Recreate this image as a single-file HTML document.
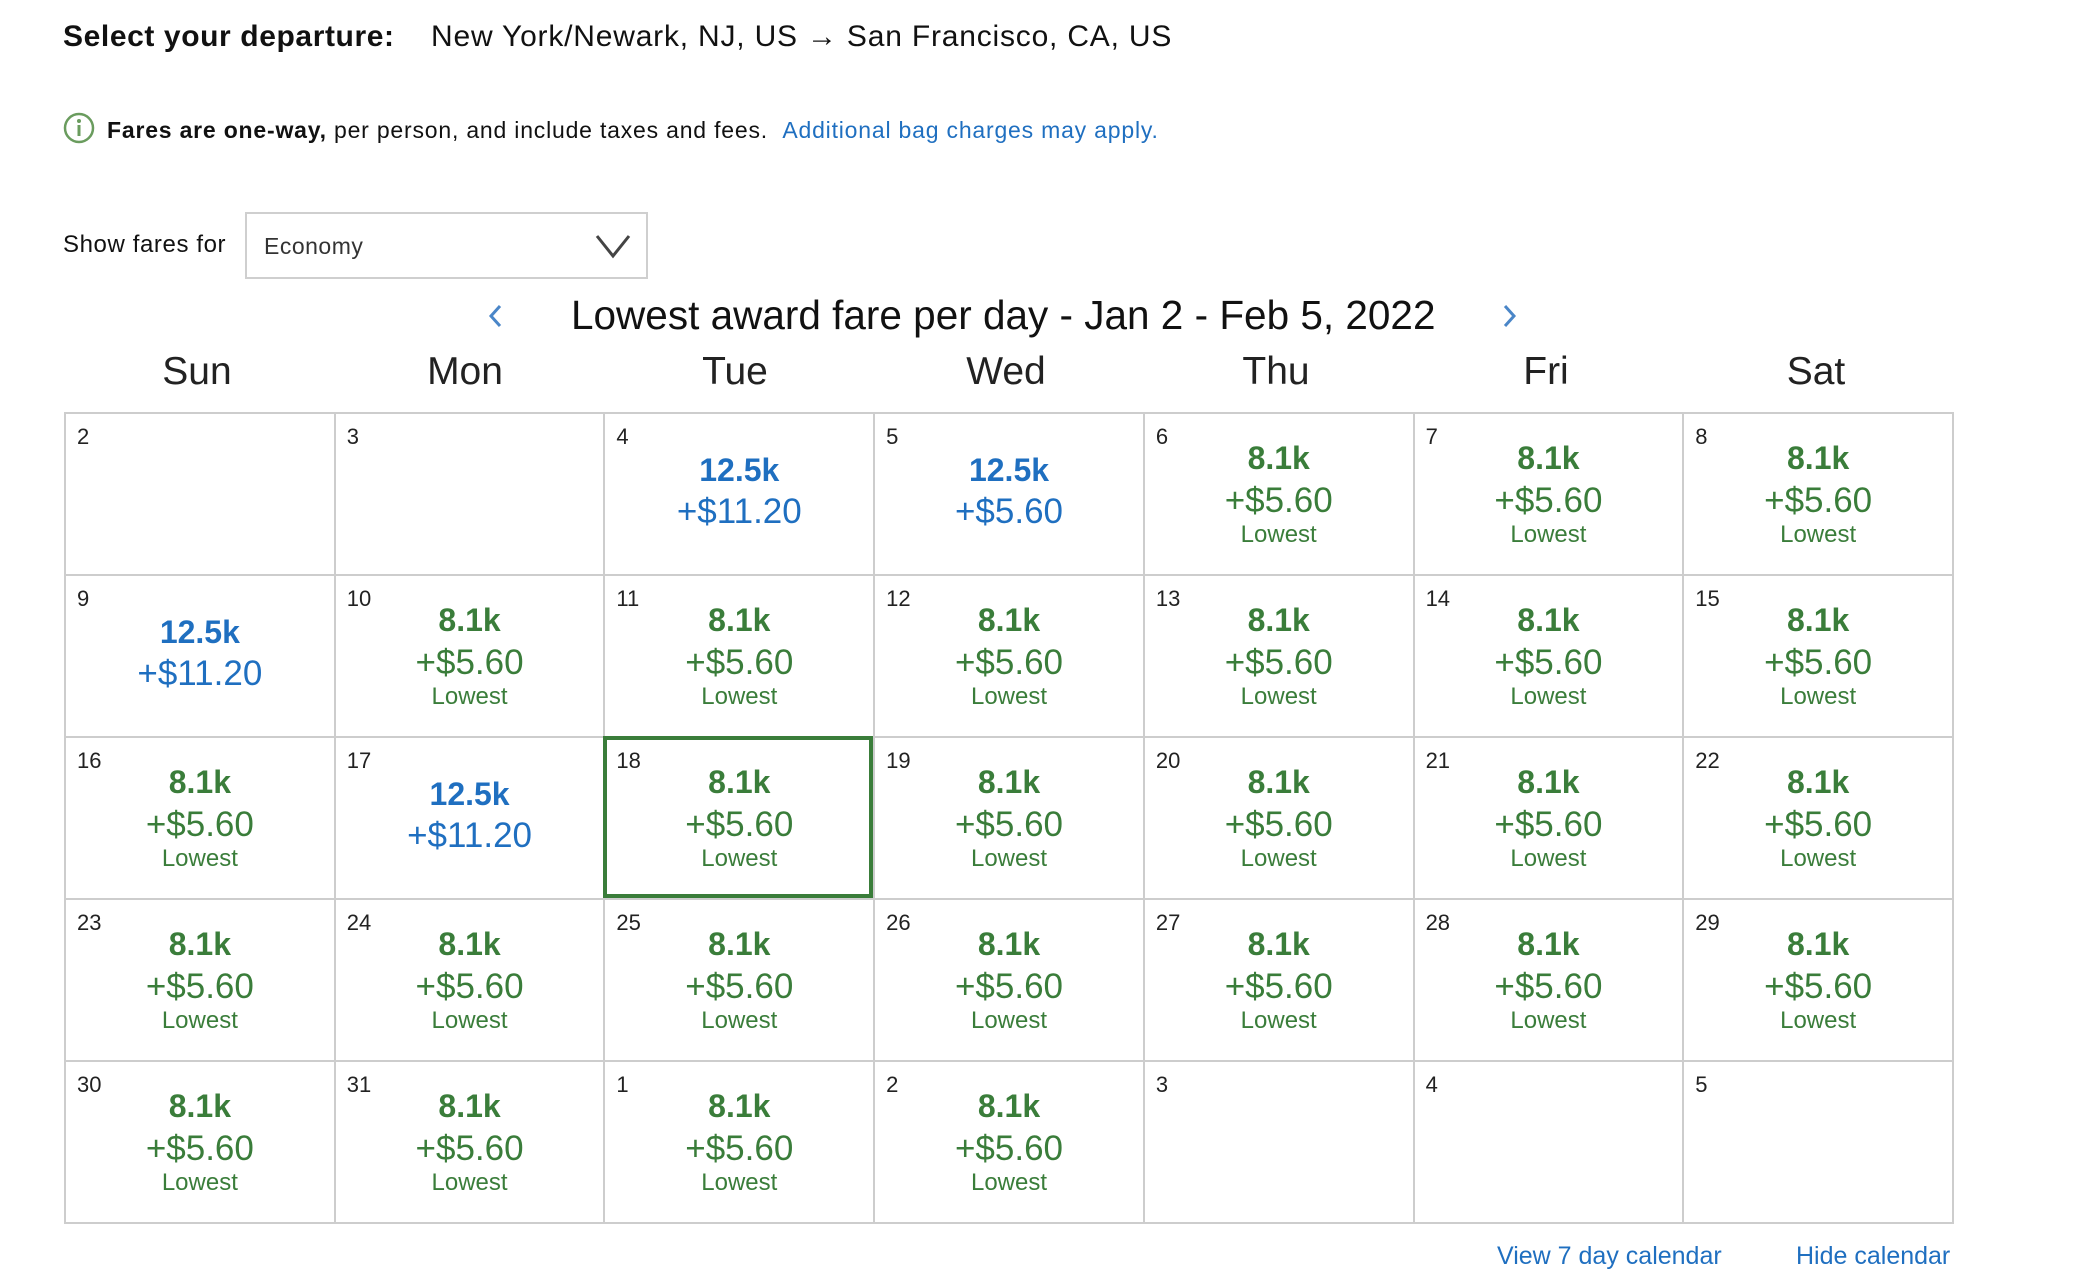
<!DOCTYPE html>
<html><head><meta charset="utf-8"><style>
*{margin:0;padding:0;box-sizing:border-box}
body{width:2076px;height:1284px;background:#fff;font-family:"Liberation Sans",sans-serif;color:#111;position:relative;overflow:hidden}
.a{position:absolute;white-space:nowrap}
#grid{position:absolute;left:64px;top:412px;width:1890px;height:812px;border-left:2px solid #cdcdcd;border-top:2px solid #cdcdcd;display:grid;grid-template-columns:repeat(7,1fr);grid-template-rows:repeat(5,1fr)}
.c{position:relative;border-right:2px solid #cdcdcd;border-bottom:2px solid #cdcdcd}
.d{position:absolute;left:11px;top:10px;font-size:22px;line-height:26px;color:#222}
.k,.p,.l{position:absolute;left:0;right:0;text-align:center;color:#3a7d3a}
.k{font-weight:bold;font-size:32px;line-height:40px;top:24px}
.p{font-size:35px;line-height:40px;top:67px}
.l{font-size:24px;line-height:28px;top:107px}
.b .k,.b .p{color:#1f6fc0}
.b .k{top:36px}.b .p{top:78px}
.sel{position:absolute;inset:-2px 0 0 -2px;border:4px solid #3a7d3a}
.dn{position:absolute;top:350px;width:270px;text-align:center;font-size:39px;line-height:44px;color:#222}
</style></head><body>
<div class="a" style="left:63px;top:19px;font-size:30px;line-height:36px;letter-spacing:0.6px"><b>Select your departure:</b></div>
<div class="a" style="left:431px;top:19px;font-size:30px;line-height:36px;letter-spacing:0.8px">New York/Newark, NJ, US → San Francisco, CA, US</div>
<svg class="a" style="left:63px;top:112px" width="32" height="32"><circle cx="16" cy="16" r="14" fill="none" stroke="#6a9c5e" stroke-width="2.5"/><circle cx="16" cy="9" r="2" fill="#6a9c5e"/><rect x="14.5" y="13" width="3" height="11" fill="#6a9c5e"/></svg>
<div class="a" style="left:107px;top:116px;font-size:23px;line-height:28px;letter-spacing:0.8px"><b>Fares are one-way,</b> per person, and include taxes and fees. <span style="color:#1f6fc0">&nbsp;Additional bag charges may apply.</span></div>
<div class="a" style="left:63px;top:231px;font-size:24px;line-height:28px;letter-spacing:0.6px">Show fares for</div>
<div class="a" style="left:245px;top:212px;width:403px;height:67px;border:2px solid #cfcfcf"></div>
<div class="a" style="left:264px;top:232px;font-size:23px;line-height:28px;color:#333;letter-spacing:0.5px">Economy</div>
<svg class="a" style="left:594px;top:232px" width="38" height="28"><polyline points="3,4 19,24 35,4" fill="none" stroke="#444" stroke-width="3"/></svg>
<svg class="a" style="left:485px;top:302px" width="20" height="28"><polyline points="15,4 6,14 15,24" fill="none" stroke="#4a86c8" stroke-width="3"/></svg>
<svg class="a" style="left:1500px;top:302px" width="20" height="28"><polyline points="5,4 14,14 5,24" fill="none" stroke="#4a86c8" stroke-width="3"/></svg>
<div class="a" style="left:571px;top:291px;font-size:40.5px;line-height:48px;color:#111">Lowest award fare per day - Jan 2 - Feb 5, 2022</div>
<div class="dn" style="left:62px">Sun</div><div class="dn" style="left:330px">Mon</div><div class="dn" style="left:600px">Tue</div><div class="dn" style="left:871px">Wed</div><div class="dn" style="left:1141px">Thu</div><div class="dn" style="left:1411px">Fri</div><div class="dn" style="left:1681px">Sat</div>
<div id="grid">
<div class="c"><span class="d">2</span></div>
<div class="c"><span class="d">3</span></div>
<div class="c b"><span class="d">4</span><div class="k">12.5k</div><div class="p">+$11.20</div></div>
<div class="c b"><span class="d">5</span><div class="k">12.5k</div><div class="p">+$5.60</div></div>
<div class="c"><span class="d">6</span><div class="k">8.1k</div><div class="p">+$5.60</div><div class="l">Lowest</div></div>
<div class="c"><span class="d">7</span><div class="k">8.1k</div><div class="p">+$5.60</div><div class="l">Lowest</div></div>
<div class="c"><span class="d">8</span><div class="k">8.1k</div><div class="p">+$5.60</div><div class="l">Lowest</div></div>
<div class="c b"><span class="d">9</span><div class="k">12.5k</div><div class="p">+$11.20</div></div>
<div class="c"><span class="d">10</span><div class="k">8.1k</div><div class="p">+$5.60</div><div class="l">Lowest</div></div>
<div class="c"><span class="d">11</span><div class="k">8.1k</div><div class="p">+$5.60</div><div class="l">Lowest</div></div>
<div class="c"><span class="d">12</span><div class="k">8.1k</div><div class="p">+$5.60</div><div class="l">Lowest</div></div>
<div class="c"><span class="d">13</span><div class="k">8.1k</div><div class="p">+$5.60</div><div class="l">Lowest</div></div>
<div class="c"><span class="d">14</span><div class="k">8.1k</div><div class="p">+$5.60</div><div class="l">Lowest</div></div>
<div class="c"><span class="d">15</span><div class="k">8.1k</div><div class="p">+$5.60</div><div class="l">Lowest</div></div>
<div class="c"><span class="d">16</span><div class="k">8.1k</div><div class="p">+$5.60</div><div class="l">Lowest</div></div>
<div class="c b"><span class="d">17</span><div class="k">12.5k</div><div class="p">+$11.20</div></div>
<div class="c"><div class="sel"></div><span class="d">18</span><div class="k">8.1k</div><div class="p">+$5.60</div><div class="l">Lowest</div></div>
<div class="c"><span class="d">19</span><div class="k">8.1k</div><div class="p">+$5.60</div><div class="l">Lowest</div></div>
<div class="c"><span class="d">20</span><div class="k">8.1k</div><div class="p">+$5.60</div><div class="l">Lowest</div></div>
<div class="c"><span class="d">21</span><div class="k">8.1k</div><div class="p">+$5.60</div><div class="l">Lowest</div></div>
<div class="c"><span class="d">22</span><div class="k">8.1k</div><div class="p">+$5.60</div><div class="l">Lowest</div></div>
<div class="c"><span class="d">23</span><div class="k">8.1k</div><div class="p">+$5.60</div><div class="l">Lowest</div></div>
<div class="c"><span class="d">24</span><div class="k">8.1k</div><div class="p">+$5.60</div><div class="l">Lowest</div></div>
<div class="c"><span class="d">25</span><div class="k">8.1k</div><div class="p">+$5.60</div><div class="l">Lowest</div></div>
<div class="c"><span class="d">26</span><div class="k">8.1k</div><div class="p">+$5.60</div><div class="l">Lowest</div></div>
<div class="c"><span class="d">27</span><div class="k">8.1k</div><div class="p">+$5.60</div><div class="l">Lowest</div></div>
<div class="c"><span class="d">28</span><div class="k">8.1k</div><div class="p">+$5.60</div><div class="l">Lowest</div></div>
<div class="c"><span class="d">29</span><div class="k">8.1k</div><div class="p">+$5.60</div><div class="l">Lowest</div></div>
<div class="c"><span class="d">30</span><div class="k">8.1k</div><div class="p">+$5.60</div><div class="l">Lowest</div></div>
<div class="c"><span class="d">31</span><div class="k">8.1k</div><div class="p">+$5.60</div><div class="l">Lowest</div></div>
<div class="c"><span class="d">1</span><div class="k">8.1k</div><div class="p">+$5.60</div><div class="l">Lowest</div></div>
<div class="c"><span class="d">2</span><div class="k">8.1k</div><div class="p">+$5.60</div><div class="l">Lowest</div></div>
<div class="c"><span class="d">3</span></div>
<div class="c"><span class="d">4</span></div>
<div class="c"><span class="d">5</span></div>
</div>
<div class="a" style="left:1497px;top:1241px;font-size:25px;line-height:30px;color:#1f6fc0">View 7 day calendar</div>
<div class="a" style="left:1796px;top:1241px;font-size:25px;line-height:30px;color:#1f6fc0">Hide calendar</div>
</body></html>
